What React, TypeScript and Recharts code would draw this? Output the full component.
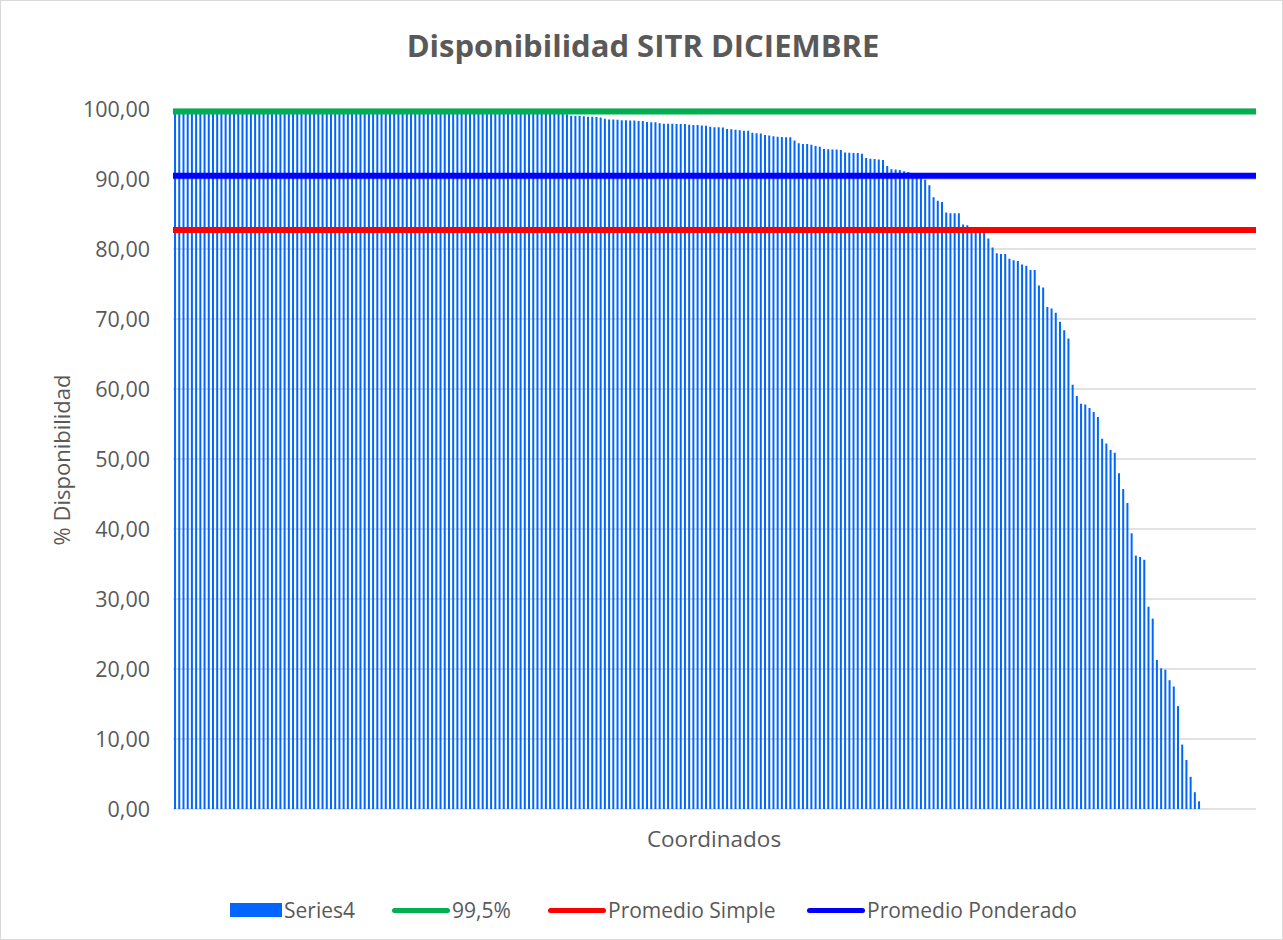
import React from 'react';
import { ComposedChart, Bar, XAxis, YAxis, CartesianGrid, ReferenceLine, Legend } from 'recharts';

// Availability (%) per coordinated agent, sorted descending (257 categories)
const VALUES: number[] = [
  100, 100, 100, 100, 100, 100, 100, 100, 100, 100,
  100, 100, 100, 100, 100, 100, 100, 100, 100, 100,
  100, 100, 100, 100, 100, 100, 100, 100, 100, 100,
  100, 100, 100, 100, 100, 100, 100, 100, 100, 100,
  100, 100, 100, 100, 100, 100, 100, 100, 100, 100,
  100, 100, 100, 100, 100, 100, 100, 100, 100, 100,
  100, 100, 100, 100, 100, 100, 100, 100, 100, 100,
  99.95, 99.95, 99.9, 99.9, 99.9, 99.85, 99.85, 99.8, 99.8, 99.8,
  99.75, 99.7, 99.7, 99.65, 99.6, 99.6, 99.55, 99.5, 99.5, 99.45,
  99.4, 99.35, 99.3, 99.25,
  99.05, 99.0, 99.0, 98.95,
  98.9, 98.9, 98.85, 98.8, 98.6, 98.5, 98.5, 98.45,
  98.4, 98.4, 98.35, 98.35, 98.3, 98.3,
  98.15, 98.1, 98.1,
  97.95, 97.9, 97.9, 97.9, 97.85, 97.85, 97.85,
  97.75, 97.7, 97.7, 97.65, 97.6,
  97.45, 97.4, 97.4, 97.35,
  97.15, 97.1, 97.05,
  96.95, 96.9, 96.9,
  96.6, 96.55, 96.5,
  96.3, 96.2, 96.1, 96.05,
  96.0, 95.95, 95.95,
  95.5,
  95.1, 95.0, 95.0, 94.9,
  94.7, 94.6,
  94.3, 94.25, 94.2, 94.2, 94.15,
  93.8, 93.75, 93.7, 93.7, 93.6,
  93.0, 92.9, 92.85, 92.8, 92.7,
  91.85,
  91.4, 91.35, 91.3,
  91.1, 91.0,
  90.8, 90.6, 90.3,
  89.9, 89.1,
  87.4, 86.9, 86.7,
  85.2, 85.1, 85.1, 85.1,
  83.5, 83.4,
  83.0, 82.8, 82.6, 82.4,
  81.5, 80.2,
  79.4, 79.3, 79.3, 78.6, 78.4, 78.3, 77.8, 77.6, 77.0, 77.0,
  74.8, 74.5, 71.7, 71.5, 70.9, 69.6, 68.4, 67.2,
  60.6, 59.0, 57.9, 57.8, 57.3, 56.7, 56.0,
  52.9, 52.2, 51.3, 50.9, 47.95, 45.7, 43.7, 39.4,
  36.2, 36.0, 35.6, 28.9, 27.2, 21.3, 20.1, 19.9, 18.4, 17.5,
  14.7, 9.2, 7.0, 4.6, 2.4, 1.1,
  0, 0, 0, 0, 0, 0, 0, 0, 0, 0, 0, 0, 0,
];

const CATEGORIES: string[] = VALUES.map((_, i) => `C${i + 1}`);

const META = 99.65;
const PROMEDIO_SIMPLE = 82.7;
const PROMEDIO_PONDERADO = 90.45;

const Y_TICKS = [0, 10, 20, 30, 40, 50, 60, 70, 80, 90, 100];

const TITLE = 'Disponibilidad SITR DICIEMBRE';
const Y_TITLE = '% Disponibilidad';
const X_TITLE = 'Coordinados';

const BAR_COLOR = '#0066FF';
const GREEN = '#00B050';
const RED = '#FF0000';
const BLUE = '#0000FF';
const TEXT = '#595959';
const FONT = "'Open Sans', sans-serif";

const LEGEND_ITEMS = [
  { label: 'Series4', kind: 'rect', color: BAR_COLOR, left: 230 },
  { label: '99,5%', kind: 'line', color: GREEN, left: 392 },
  { label: 'Promedio Simple', kind: 'line', color: RED, left: 548 },
  { label: 'Promedio Ponderado', kind: 'line', color: BLUE, left: 807 },
];

const data = CATEGORIES.map((c, i) => ({ cat: c, value: VALUES[i] }));

const fmt = (v: number) => v.toFixed(2).replace('.', ',');

const renderLegend = () => (
  <div style={{ position: 'relative', width: 1283, height: 30, fontFamily: FONT, fontSize: 21, color: TEXT }}>
    {LEGEND_ITEMS.map((it) => (
      <div
        key={it.label}
        style={{ position: 'absolute', left: it.left, top: 0, height: 30, display: 'flex', alignItems: 'center', whiteSpace: 'nowrap' }}
      >
        {it.kind === 'rect' ? (
          <span style={{ display: 'inline-block', width: 52, height: 14, background: it.color }} />
        ) : (
          <span style={{ display: 'inline-block', width: 58, height: 5, background: it.color, borderRadius: 3 }} />
        )}
        <span style={{ marginLeft: 2 }}>{it.label}</span>
      </div>
    ))}
  </div>
);

export default function App() {
  return (
    <div
      style={{
        position: 'absolute',
        left: 0,
        top: 0,
        width: 1283,
        height: 940,
        background: '#fff',
        boxShadow: 'inset 0 0 0 1px #d9d9d9',
      }}
    >
      <ComposedChart
        width={1283}
        height={940}
        data={data}
        margin={{ top: 109, right: 27, bottom: 131, left: 0 }}
        barCategoryGap="25%"
      >
        <CartesianGrid vertical={false} stroke="#d9d9d9" strokeWidth={1.3} />
        <XAxis dataKey="cat" hide />
        <YAxis
          width={173}
          domain={[0, 100]}
          ticks={Y_TICKS}
          interval={0}
          tickFormatter={fmt}
          axisLine={false}
          tickLine={false}
          tickSize={0}
          tickMargin={23}
          tick={{ fill: TEXT, fontSize: 21.5, fontFamily: FONT }}
        />
        <Bar dataKey="value" name="Series4" fill={BAR_COLOR} isAnimationActive={false} />
        <ReferenceLine y={META} stroke={GREEN} strokeWidth={6} />
        <ReferenceLine y={PROMEDIO_PONDERADO} stroke={BLUE} strokeWidth={6} />
        <ReferenceLine y={PROMEDIO_SIMPLE} stroke={RED} strokeWidth={6} />
        <Legend
          layout="horizontal"
          verticalAlign="middle"
          align="center"
          wrapperStyle={{ top: 895, left: 0, width: 1283, height: 30 }}
          content={renderLegend}
        />
        <text x={643} y={57} textAnchor="middle" fontFamily={FONT} fontSize={31} fontWeight={700} fill={TEXT}>
          {TITLE}
        </text>
        <text x={714} y={847} textAnchor="middle" fontFamily={FONT} fontSize={22.5} fill={TEXT}>
          {X_TITLE}
        </text>
        <text x={70} y={460} textAnchor="middle" fontFamily={FONT} fontSize={22} fill={TEXT} transform="rotate(-90 70 460)">
          {Y_TITLE}
        </text>
      </ComposedChart>
    </div>
  );
}
